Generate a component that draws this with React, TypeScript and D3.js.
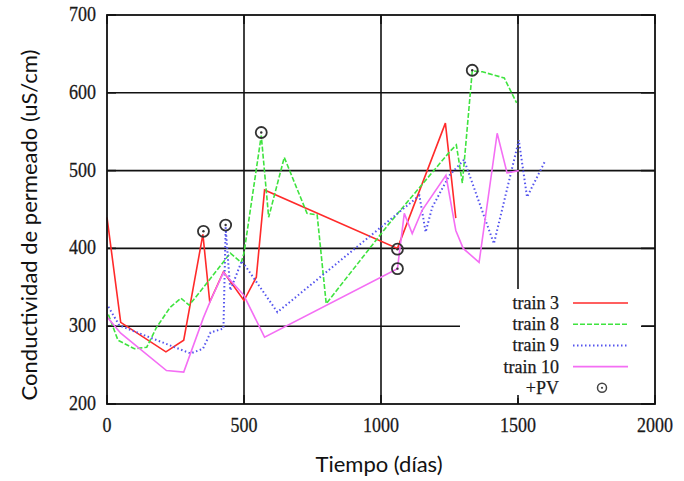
import React, { useRef, useEffect } from "react";
import * as d3 from "d3";

const width = 684;
const height = 481;

// series: [dia, conductividad]
const train3: [number, number][] = [
  [0, 440], [50, 305], [215, 267], [280, 282], [350, 418], [375, 331], [425, 370],
  [500, 333], [545, 363], [575, 475], [1060, 400], [1235, 561], [1273, 439],
];
const train8: [number, number][] = [
  [5, 315], [40, 282], [100, 271], [145, 273], [180, 298], [230, 324], [270, 336],
  [300, 327], [350, 349], [450, 394], [490, 382], [500, 394], [563, 545], [590, 440],
  [647, 517], [730, 445], [767, 443], [800, 329], [1030, 432], [1250, 524], [1275, 533],
  [1297, 484], [1333, 628], [1370, 627], [1450, 619], [1495, 587],
];
const train9: [number, number][] = [
  [5, 325], [45, 301], [305, 265], [350, 271], [378, 292], [425, 297], [433, 427],
  [450, 346], [492, 384], [622, 318], [1030, 436], [1140, 468], [1163, 421], [1187, 453],
  [1250, 494], [1303, 514], [1412, 406], [1503, 539], [1533, 466], [1600, 513],
];
const train10: [number, number][] = [
  [0, 312], [50, 291], [217, 243], [280, 241], [352, 311], [378, 333], [425, 369],
  [499, 340], [575, 286], [1060, 374], [1085, 445], [1114, 419], [1150, 449], [1237, 494],
  [1273, 423], [1300, 400], [1358, 382], [1424, 548], [1460, 497], [1503, 500],
];
const pvPoints: [number, number][] = [
  [352, 422], [433, 430], [563, 549], [1060, 399], [1060, 374], [1333, 629],
];

const xTicks = [0, 500, 1000, 1500, 2000];
const yTicks = [200, 300, 400, 500, 600, 700];

const series = [
  { name: "train 3", data: train3, color: "#ff2a2a", dash: null },
  { name: "train 8", data: train8, color: "#3fe33f", dash: "5,2" },
  { name: "train 9", data: train9, color: "#5555ee", dash: "1.5,2.5" },
  { name: "train 10", data: train10, color: "#f46ef4", dash: null },
];

const left = 107, right = 655, top = 15, bottom = 404;
const x = d3.scaleLinear().domain([0, 2000]).range([left, right]);
const y = d3.scaleLinear().domain([200, 700]).range([bottom, top]);

const serif: React.CSSProperties = {
  fontFamily: "'Liberation Serif', 'Times New Roman', serif",
  fontSize: 18,
  fill: "#1a1a1a",
  stroke: "#1a1a1a",
  strokeWidth: 0.25,
};
const sans: React.CSSProperties = {
  fontFamily: "Lato, 'Open Sans', sans-serif",
  fontSize: 22,
  fill: "#111",
};

function App() {
  const gRef = useRef<SVGGElement>(null);

  useEffect(() => {
    const g = d3.select(gRef.current);
    g.selectAll("*").remove();

    // grid
    const grid = g.append("g").attr("stroke", "#111").attr("stroke-width", 1.6);
    yTicks.slice(1, -1).forEach((t) => {
      grid.append("line").attr("x1", left).attr("x2", right).attr("y1", y(t)).attr("y2", y(t));
    });
    xTicks.slice(1, -1).forEach((t) => {
      grid.append("line").attr("x1", x(t)).attr("x2", x(t)).attr("y1", top).attr("y2", bottom);
    });

    // legend box clears the grid behind it
    g.append("rect").attr("x", 460).attr("y", 289).attr("width", 182).attr("height", 109).attr("fill", "#fff");

    // ticks inside the frame
    const ticks = g.append("g").attr("stroke", "#111").attr("stroke-width", 1.6);
    yTicks.forEach((t) => {
      ticks.append("line").attr("x1", left).attr("x2", left + 9).attr("y1", y(t)).attr("y2", y(t));
      ticks.append("line").attr("x1", right - 14).attr("x2", right).attr("y1", y(t)).attr("y2", y(t));
    });
    xTicks.forEach((t) => {
      ticks.append("line").attr("x1", x(t)).attr("x2", x(t)).attr("y1", bottom - 9).attr("y2", bottom);
      ticks.append("line").attr("x1", x(t)).attr("x2", x(t)).attr("y1", top).attr("y2", top + 9);
    });

    // lines
    const line = d3.line<[number, number]>().x((d) => x(d[0])).y((d) => y(d[1]));
    series.forEach((s) => {
      g.append("path")
        .datum(s.data)
        .attr("d", line)
        .attr("fill", "none")
        .attr("stroke", s.color)
        .attr("stroke-width", s.dash === "1.5,2.5" ? 2 : 1.6)
        .attr("stroke-dasharray", s.dash);
    });

    // +PV markers
    pvPoints.forEach((p) => {
      g.append("circle").attr("cx", x(p[0])).attr("cy", y(p[1])).attr("r", 5.5)
        .attr("fill", "none").attr("stroke", "#333").attr("stroke-width", 1.8);
      g.append("circle").attr("cx", x(p[0])).attr("cy", y(p[1])).attr("r", 1.2).attr("fill", "#333");
    });

    // frame
    g.append("rect").attr("x", left).attr("y", top).attr("width", right - left).attr("height", bottom - top)
      .attr("fill", "none").attr("stroke", "#111").attr("stroke-width", 1.8);

    // legend samples
    series.forEach((s, i) => {
      const ly = 303 + i * 21.2;
      g.append("line").attr("x1", 573).attr("x2", 628).attr("y1", ly).attr("y2", ly)
        .attr("stroke", s.color).attr("stroke-width", s.dash === "1.5,2.5" ? 2 : 1.6)
        .attr("stroke-dasharray", s.dash);
    });
    const pvY = 303 + series.length * 21.2;
    g.append("circle").attr("cx", 602).attr("cy", pvY).attr("r", 4.5)
      .attr("fill", "none").attr("stroke", "#444").attr("stroke-width", 1.5);
    g.append("circle").attr("cx", 602).attr("cy", pvY).attr("r", 1.1).attr("fill", "#444");
  }, []);

  const legendNames = [...series.map((s) => s.name), "+PV"];

  return (
    <svg width={width} height={height} style={{ position: "absolute", left: 0, top: 0, background: "#fff" }}>
      <g ref={gRef} />
      {yTicks.map((t) => (
        <text key={"y" + t} transform={`translate(96,${y(t) + 6}) scale(1,1.15)`} textAnchor="end" style={serif}>
          {t}
        </text>
      ))}
      {xTicks.map((t) => (
        <text key={"x" + t} transform={`translate(${x(t)},432) scale(1,1.15)`} textAnchor="middle" style={serif}>
          {t}
        </text>
      ))}
      {legendNames.map((n, i) => (
        <text key={n} x={559} y={303 + i * 21.2 + 6} textAnchor="end" style={serif}>
          {n}
        </text>
      ))}
      <text x={379} y={472} textAnchor="middle" style={sans}>Tiempo (días)</text>
      <text transform="translate(37,225) rotate(-90)" textAnchor="middle" style={sans}>
        Conductividad de permeado (uS/cm)
      </text>
    </svg>
  );
}

export default App;
